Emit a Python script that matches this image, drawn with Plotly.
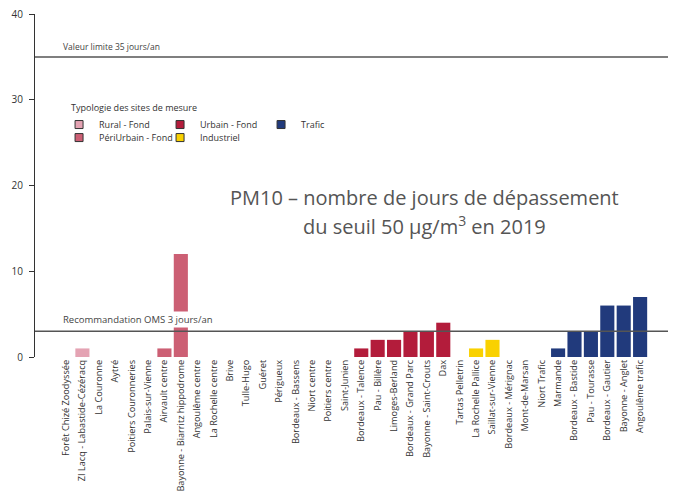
import plotly.graph_objects as go

# stations in display order, with their typology and number of days > 50 µg/m3
stations = [
    "Forêt Chizé Zoodyssée", "ZI Lacq - Labastide-Cézéracq", "La Couronne", "Aytré",
    "Poitiers Couronneries", "Palais-sur-Vienne", "Airvault centre",
    "Bayonne - Biarritz hippodrome", "Angoulême centre", "La Rochelle centre", "Brive",
    "Tulle-Hugo", "Guéret", "Périgueux", "Bordeaux - Bassens", "Niort centre",
    "Poitiers centre", "Saint-Junien", "Bordeaux - Talence", "Pau - Billère",
    "Limoges-Berland", "Bordeaux - Grand Parc", "Bayonne - Saint-Crouts", "Dax",
    "Tartas Pelletrin", "La Rochelle Pallice", "Saillat-sur-Vienne", "Bordeaux - Mérignac",
    "Mont-de-Marsan", "Niort Trafic", "Marmande", "Bordeaux - Bastide", "Pau - Tourasse",
    "Bordeaux - Gautier", "Bayonne - Anglet", "Angoulême trafic",
]
typology = (
    ["Rural - Fond"] * 2
    + ["PériUrbain - Fond"] * 6
    + ["Urbain - Fond"] * 16
    + ["Industriel"] * 3
    + ["Trafic"] * 9
)
days = [
    0, 1, 0, 0, 0, 0, 1, 12, 0, 0, 0, 0, 0, 0, 0, 0, 0, 0,
    1, 2, 2, 3, 3, 4, 0, 1, 2, 0, 0, 0, 1, 3, 3, 6, 6, 7,
]

colors = {
    "Rural - Fond": "#E4A3B3",
    "PériUrbain - Fond": "#CC5F74",
    "Urbain - Fond": "#B31C3B",
    "Industriel": "#F9D100",
    "Trafic": "#213A7C",
}
# legend layout: first row / second row
legend_rows = {
    "Rural - Fond": "legend", "Urbain - Fond": "legend", "Trafic": "legend",
    "PériUrbain - Fond": "legend2", "Industriel": "legend2",
}
legend_rank = {"Rural - Fond": 1, "Urbain - Fond": 2, "Trafic": 3,
               "PériUrbain - Fond": 1, "Industriel": 2}

limit_value = 35
oms_value = 3

FONT = "Open Sans, DejaVu Sans, sans-serif"

fig = go.Figure()

for typ, col in colors.items():
    xs = [s for s, t in zip(stations, typology) if t == typ]
    ys = [d for d, t in zip(days, typology) if t == typ]
    fig.add_trace(go.Bar(x=xs, y=ys, name=typ, marker_color=col,
                         marker_line_width=0, showlegend=False))
    # legend entry only (small dark-outlined square)
    fig.add_trace(go.Scatter(x=[None], y=[None], name=typ, mode="markers",
                             marker=dict(symbol="square", size=8, color=col,
                                         line=dict(color="#333333", width=1)),
                             legend=legend_rows[typ], legendrank=legend_rank[typ]))

for val in (limit_value, oms_value):
    fig.add_shape(type="line", xref="paper", x0=0, x1=1, y0=val, y1=val,
                  line=dict(color="#555555", width=1.5), layer="above")

fig.add_annotation(x=0.041, y=limit_value, xref="paper", yref="y", yshift=10,
                   text="Valeur limite 35 jours/an", showarrow=False,
                   xanchor="left", font=dict(size=8.5, color="#444444"))
fig.add_annotation(x=0.041, y=oms_value, xref="paper", yref="y", yshift=12,
                   text="Recommandation OMS 3 jours/an", showarrow=False,
                   xanchor="left", bgcolor="white", borderpad=1,
                   font=dict(size=9.5, color="#444444"))
fig.add_annotation(x=0.615, y=0.466, xref="paper", yref="paper",
                   text="PM10 – nombre de jours de dépassement",
                   showarrow=False, font=dict(size=20, color="#555555"))
fig.add_annotation(x=0.615, y=0.382, xref="paper", yref="paper",
                   text="du seuil 50 µg/m<sup>3</sup> en 2019",
                   showarrow=False, font=dict(size=20, color="#555555"))
fig.add_annotation(x=0.053, y=0.727, xref="paper", yref="paper",
                   text="Typologie des sites de mesure", showarrow=False,
                   xanchor="left", yanchor="middle",
                   font=dict(size=9, color="#333333"))

fig.update_layout(
    width=676, height=491,
    margin=dict(l=35, r=8, t=14, b=134),
    plot_bgcolor="white", paper_bgcolor="white",
    font=dict(family=FONT, color="#333333"),
    bargap=0.14, barmode="overlay",
    legend=dict(orientation="h", x=0.038, y=0.72, xanchor="left", yanchor="top",
                entrywidth=56, itemwidth=30, bgcolor="rgba(0,0,0,0)",
                tracegroupgap=0, font=dict(size=9, color="#333333")),
    legend2=dict(orientation="h", x=0.038, y=0.682, xanchor="left", yanchor="top",
                 entrywidth=56, itemwidth=30, bgcolor="rgba(0,0,0,0)",
                 tracegroupgap=0, font=dict(size=9, color="#333333")),
)
fig.update_xaxes(type="category", categoryorder="array", categoryarray=stations,
                 range=[-1.89, 36.7], showline=False, ticks="", showgrid=False,
                 automargin=False, tickangle=-90,
                 tickfont=dict(size=9.2, color="#333333"))
fig.update_yaxes(range=[0, 40], tickvals=[0, 10, 20, 30, 40], showgrid=False,
                 zeroline=False, showline=True, linecolor="#333333", linewidth=1,
                 automargin=False, ticks="outside", ticklen=5, tickcolor="#333333",
                 ticklabelstandoff=4, tickfont=dict(size=10, color="#333333"))

fig.write_html("out.html", config={"displayModeBar": False},
               post_script="document.body.style.margin='0';")
